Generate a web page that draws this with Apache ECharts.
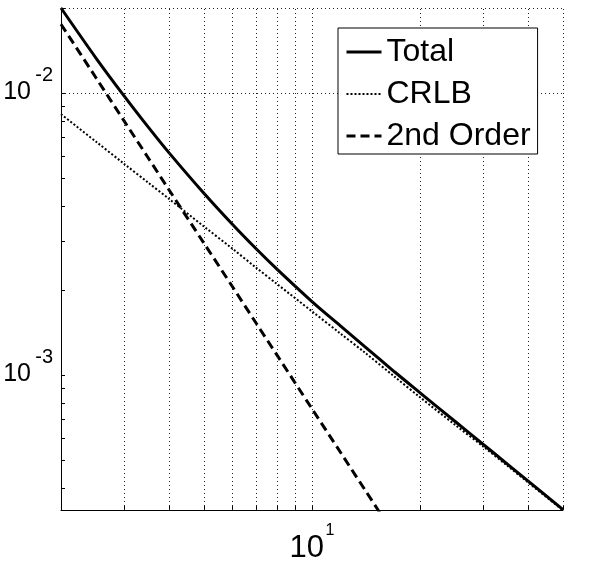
<!DOCTYPE html>
<html lang="en">
<head>
    <meta charset="UTF-8">
    <title>Total / CRLB / 2nd Order</title>
    <script src="https://cdn.jsdelivr.net/npm/echarts@6/dist/echarts.min.js"></script>
    <style>
        html, body { margin: 0; padding: 0; background: #fff; }
        #main { width: 594px; height: 567px; }
    </style>
</head>
<body>
<div id="main"></div>
<script type="text/javascript">
    // values
    var xs = [2, 2.5, 3, 3.5, 4, 5, 6, 7, 8, 10, 12, 14, 17, 20, 25, 30, 35, 40, 50];
    var total = [0.0201, 0.01339, 0.00979, 0.00760, 0.00616, 0.00443, 0.00344, 0.00281, 0.00238, 0.00183,
        0.00150, 0.00127, 0.00103, 0.000869, 0.000689, 0.000570, 0.000486, 0.000423, 0.000335];
    var crlb = [0.00845, 0.00676, 0.00563, 0.00483, 0.00423, 0.00338, 0.00282, 0.00241, 0.00211, 0.00169,
        0.00141, 0.00121, 0.00099, 0.000838, 0.000670, 0.000560, 0.000479, 0.000418, 0.000333];
    var secondXs = [2, 2.5, 3, 3.5, 4, 5, 6, 7, 8, 10, 12, 14, 17];
    var second = [0.0176, 0.0114, 0.00798, 0.00591, 0.00455, 0.00295, 0.00207, 0.00153, 0.00118, 0.000763,
        0.000535, 0.000396, 0.000271];

    var seriesNames = ['Total', 'CRLB', '2nd Order'];
    var lineWidths = [3, 2, 3];
    var xRange = [2, 50];
    var yRange = [0.000334, 0.0201];
    // labelled decades and the dotted grid of a matlab log plot
    var xTickValues = [10];
    var yTickValues = [0.001, 0.01];
    var xGridValues = [3, 4, 5, 6, 7, 8, 9, 10, 20, 30, 40, 50];
    var yGridValues = [0.0004, 0.0005, 0.0006, 0.0007, 0.0008, 0.0009, 0.001,
        0.002, 0.003, 0.004, 0.005, 0.006, 0.007, 0.008, 0.009, 0.01, 0.02];

    function pairs(a, b) {
        return a.map(function (v, i) { return [v, b[i]]; });
    }

    // exponent on its own short line above the "10"
    function powLabel(ticks) {
        return function (v) {
            for (var i = 0; i < ticks.length; i++) {
                if (Math.abs(v - ticks[i]) / ticks[i] < 1e-6) {
                    return '{s|' + Math.round(Math.log10(ticks[i])) + '}\n{b|10}';
                }
            }
            return '';
        };
    }

    var font = 'Liberation Sans, Arial, Helvetica, sans-serif';
    var myChart = echarts.init(document.getElementById('main'));

    var gridLines = xGridValues.map(function (v) { return {xAxis: v}; })
        .concat(yGridValues.map(function (v) { return {yAxis: v}; }));

    var option = {
        animation: false,
        backgroundColor: '#fff',
        grid: {left: 61, right: 31, top: 8, bottom: 57},
        legend: {
            data: seriesNames.map(function (n, i) {
                return {name: n, lineStyle: {width: lineWidths[i]}};
            }),
            orient: 'vertical',
            left: 338,
            top: 28,
            padding: [7, 7, 1, 7],
            itemGap: 8,
            itemWidth: 35,
            itemHeight: 14,
            backgroundColor: '#fff',
            borderColor: '#000',
            borderWidth: 1,
            borderRadius: 0,
            z: 10,
            selectedMode: false,
            itemStyle: {color: 'rgba(0,0,0,0)', borderWidth: 0},
            textStyle: {fontFamily: font, fontSize: 32, lineHeight: 34, color: '#000'}
        },
        xAxis: {
            type: 'log',
            logBase: 10,
            min: xRange[0],
            max: xRange[1],
            splitLine: {show: false},
            axisLine: {show: true, lineStyle: {color: '#000', width: 1}},
            axisTick: {show: true, inside: true, length: 4, customValues: xGridValues, lineStyle: {color: '#000'}},
            axisLabel: {
                customValues: xTickValues,
                margin: 14.5,
                formatter: powLabel(xTickValues),
                rich: {
                    b: {fontFamily: font, fontSize: 31, lineHeight: 24, color: '#000', padding: [0, 10.5, 0, 0]},
                    s: {fontFamily: font, fontSize: 16, lineHeight: 12, color: '#000', padding: [0, 0, 0, 36]}
                }
            }
        },
        yAxis: {
            type: 'log',
            logBase: 10,
            min: yRange[0],
            max: yRange[1],
            splitLine: {show: false},
            axisLine: {show: true, lineStyle: {color: '#000', width: 1}},
            axisTick: {show: true, inside: true, length: 4, customValues: yGridValues, lineStyle: {color: '#000'}},
            axisLabel: {
                customValues: yTickValues,
                margin: 8,
                padding: [0, 0, 11, 0],
                formatter: powLabel(yTickValues),
                rich: {
                    b: {fontFamily: font, fontSize: 25, lineHeight: 26, color: '#000', padding: [0, 22, 0, 0]},
                    s: {fontFamily: font, fontSize: 20, lineHeight: 8, color: '#000', padding: [0, 0, 0, 32]}
                }
            }
        },
        series: [
            {
                name: 'grid',
                type: 'line',
                data: [],
                silent: true,
                z: 1,
                markLine: {
                    silent: true,
                    symbol: ['none', 'none'],
                    label: {show: false},
                    lineStyle: {type: [1, 3], color: '#222', width: 1},
                    emphasis: {disabled: true},
                    data: gridLines
                }
            },
            {
                name: seriesNames[0],
                type: 'line',
                data: pairs(xs, total),
                showSymbol: false,
                symbol: 'none',
                smooth: 0.3,
                z: 3,
                lineStyle: {color: '#000', width: lineWidths[0], type: 'solid'},
                itemStyle: {color: '#000'}
            },
            {
                name: seriesNames[1],
                type: 'line',
                data: pairs(xs, crlb),
                showSymbol: false,
                symbol: 'none',
                smooth: 0.3,
                z: 3,
                lineStyle: {color: '#000', width: lineWidths[1], type: [2, 2]},
                itemStyle: {color: '#000'}
            },
            {
                name: seriesNames[2],
                type: 'line',
                data: pairs(secondXs, second),
                showSymbol: false,
                symbol: 'none',
                smooth: 0.3,
                z: 3,
                lineStyle: {color: '#000', width: lineWidths[2], type: [9, 5]},
                itemStyle: {color: '#000'}
            }
        ]
    };

    myChart.setOption(option);
</script>
</body>
</html>
